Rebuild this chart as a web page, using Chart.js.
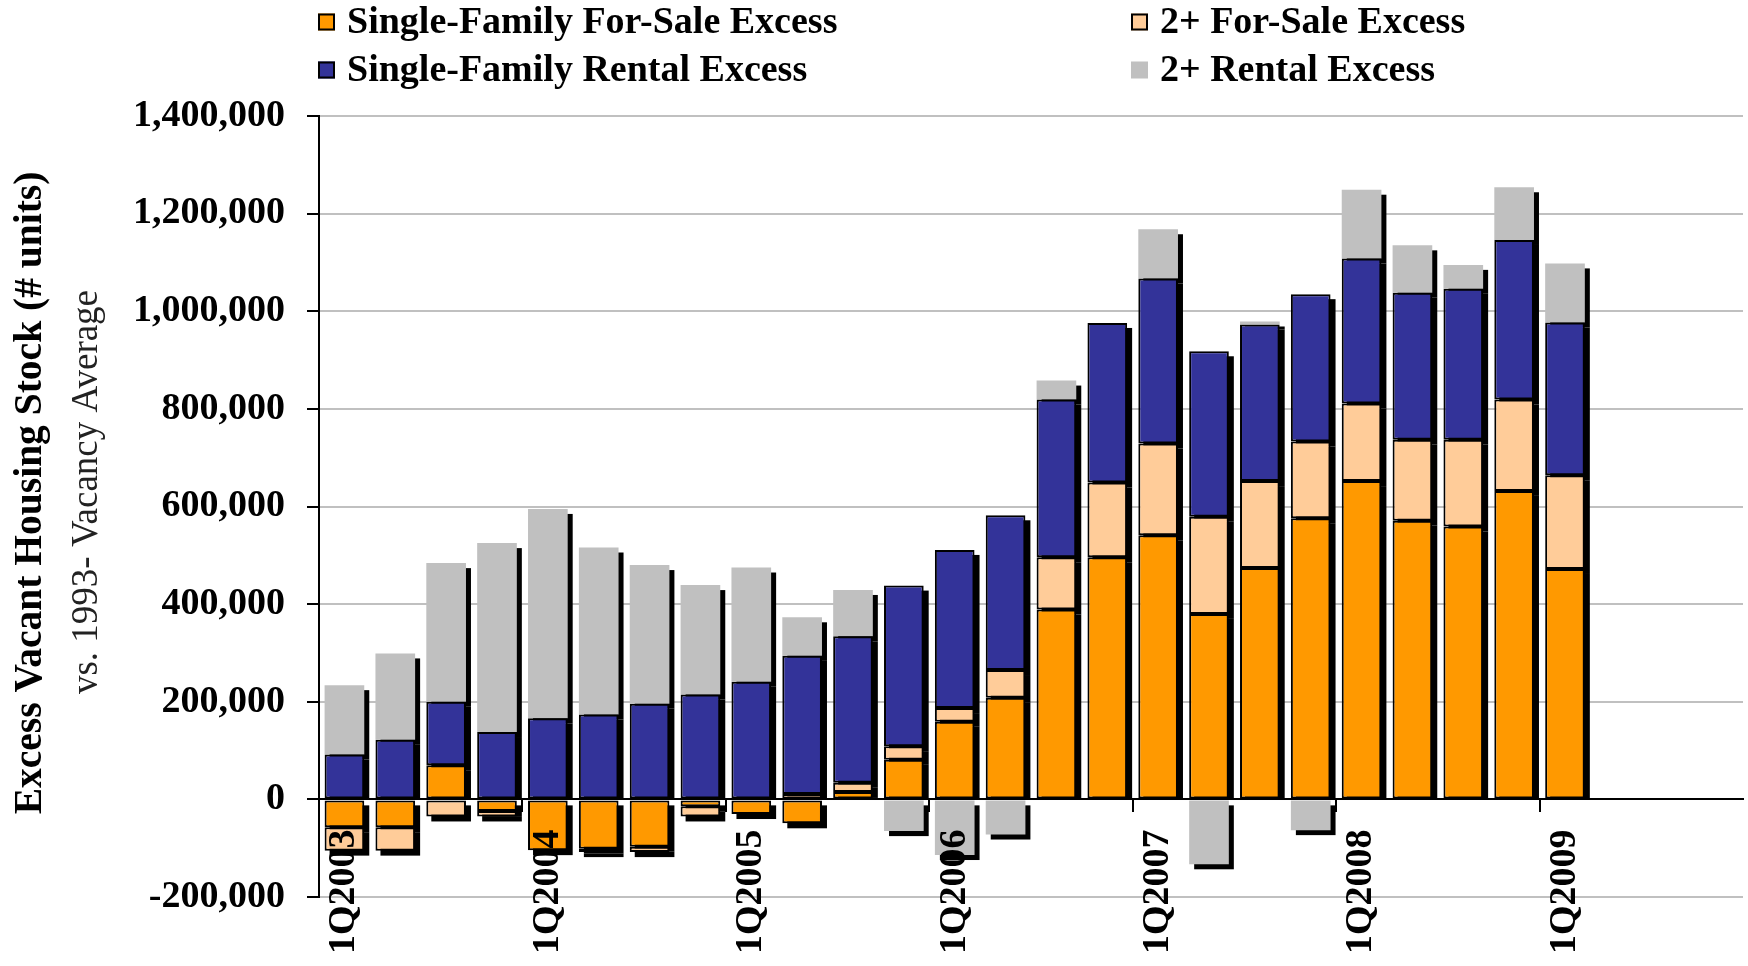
<!DOCTYPE html>
<html>
<head>
<meta charset="utf-8">
<title>Excess Vacant Housing Stock</title>
<script src="https://cdn.jsdelivr.net/npm/chart.js@4.4.1/dist/chart.umd.min.js"></script>
<style>
  html, body { margin: 0; padding: 0; background: #fff; }
</style>
</head>
<body>
<canvas id="chart" width="1748" height="966"></canvas>
<script>
// quarters on the category axis (only 1Q of each year gets a label)
const quarters = [
    "1Q2003", "2Q2003", "3Q2003", "4Q2003",
    "1Q2004", "2Q2004", "3Q2004", "4Q2004",
    "1Q2005", "2Q2005", "3Q2005", "4Q2005",
    "1Q2006", "2Q2006", "3Q2006", "4Q2006",
    "1Q2007", "2Q2007", "3Q2007", "4Q2007",
    "1Q2008", "2Q2008", "3Q2008", "4Q2008",
    "1Q2009", "2Q2009", "3Q2009", "4Q2009"
];

// excess units vs. 1993- vacancy average, by segment
const sfForSale = [-57000, -57000, 70000, -24000, -104000, -101000, -97000, -14000,
    -30000, -49000, 15000, 81000, 159000, 208000, 389000, 496000,
    541000, 380000, 474000, 576000, 652000, 571000, 559000, 632000,
    472000, null, null, null];
const twoForSale = [-48000, -48000, -35000, -11000, 0, -7000, -11000, -21000,
    0, 11000, 19000, 28000, 28000, 57000, 107000, 153000,
    188000, 199000, 178000, 157000, 159000, 166000, 178000, 187000,
    192000, null, null, null];
const sfRental = [92000, 122000, 130000, 138000, 166000, 174000, 196000, 215000,
    241000, 283000, 300000, 329000, 324000, 317000, 323000, 327000,
    338000, 339000, 321000, 302000, 297000, 301000, 309000, 327000,
    313000, null, null, null];
const twoRental = [142000, 177000, 284000, 387000, 429000, 342000, 284000, 224000,
    234000, 79000, 95000, -65000, -114000, -72000, 39000, 0,
    101000, -133000, 6000, -63000, 141000, 97000, 49000, 108000,
    121000, null, null, null];

const yTicks = { min: -200000, max: 1400000, step: 200000 };

const yTitle = "Excess Vacant Housing Stock (# units)";
const ySubtitle = "vs. 1993- Vacancy Average";

const serif = '"Liberation Serif", "Times New Roman", serif';

// =======================
// Drop shadow behind every bar segment
// =======================
const barShadow = {
    id: "barShadow",
    beforeDatasetsDraw(chart) {
        const ctx = chart.ctx;
        const zero = chart.scales.y.getPixelForValue(0);
        const off = 5;
        ctx.save();
        ctx.fillStyle = "#000";
        chart.data.datasets.forEach((ds, i) => {
            const meta = chart.getDatasetMeta(i);
            meta.data.forEach(bar => {
                const p = bar.getProps(["x", "y", "base", "width"], true);
                if (p.y == null || isNaN(p.y) || Math.abs(p.base - p.y) < 0.5) return;
                const top = Math.min(p.y, p.base) + off;
                let bottom = Math.max(p.y, p.base) + off;
                // shadow of a positive segment stops at the axis line
                if (p.y < p.base) bottom = Math.min(bottom, zero);
                if (bottom <= top) return;
                ctx.fillRect(p.x - p.width / 2 + off, top, p.width, bottom - top);
            });
        });
        ctx.restore();
    }
};

// =======================
// Legend in two fixed columns
// =======================
const gridLegend = {
    id: "gridLegend",
    afterDraw(chart) {
        const ctx = chart.ctx;
        const cols = [318, 1131];
        const rows = [22, 70];
        const box = 17;
        ctx.save();
        ctx.font = "bold 38px " + serif;
        ctx.textBaseline = "middle";
        ctx.textAlign = "left";
        chart.data.datasets.forEach((ds, i) => {
            const x = cols[i % 2];
            const y = rows[Math.floor(i / 2)];
            ctx.fillStyle = ds.backgroundColor;
            ctx.fillRect(x, y - box / 2, box, box);
            if (ds.borderWidth) {
                ctx.strokeStyle = "#000";
                ctx.lineWidth = 2;
                ctx.strokeRect(x + 1, y - box / 2 + 1, box - 2, box - 2);
            }
            ctx.fillStyle = "#000";
            ctx.fillText(ds.label, x + 29, y + 1);
        });
        ctx.restore();
    }
};

// =======================
// Rotated axis titles
// =======================
const sideTitles = {
    id: "sideTitles",
    afterDraw(chart) {
        const ctx = chart.ctx;
        ctx.save();
        ctx.fillStyle = "#000";
        ctx.textAlign = "center";
        ctx.textBaseline = "middle";

        ctx.save();
        ctx.translate(31, 493);
        ctx.rotate(-Math.PI / 2);
        ctx.font = "bold 39.5px " + serif;
        ctx.fillText(yTitle, 0, 0);
        ctx.restore();

        ctx.save();
        ctx.translate(87, 492);
        ctx.rotate(-Math.PI / 2);
        ctx.font = "37px " + serif;
        ctx.fillStyle = "#222";
        ctx.fillText(ySubtitle, 0, 0);
        ctx.restore();

        ctx.restore();
    }
};

function segment(label, data, color, border) {
    return {
        label: label,
        data: data,
        backgroundColor: color,
        borderColor: "#000",
        borderWidth: border ? 2 : 0,
        borderSkipped: false,
        barPercentage: 1,
        categoryPercentage: 0.78
    };
}

new Chart(document.getElementById("chart"), {
    type: "bar",
    data: {
        labels: quarters,
        datasets: [
            segment("Single-Family For-Sale Excess", sfForSale, "#FF9900", true),
            segment("2+ For-Sale Excess", twoForSale, "#FFCC99", true),
            segment("Single-Family Rental Excess", sfRental, "#333399", true),
            segment("2+ Rental Excess", twoRental, "#C0C0C0", false)
        ]
    },
    options: {
        responsive: false,
        animation: false,
        devicePixelRatio: 1,
        layout: { padding: { top: 116, bottom: 69, left: 0, right: 5 } },
        plugins: {
            legend: { display: false },
            tooltip: { enabled: false }
        },
        scales: {
            x: {
                stacked: true,
                position: { y: 0 },
                offset: true,
                afterFit: scale => { scale.paddingLeft = 0; scale.paddingRight = 0; },
                border: { color: "#000", width: 2, z: 1 },
                grid: {
                    offset: true,
                    drawOnChartArea: false,
                    tickLength: 12,
                    lineWidth: 2,
                    color: c => (c.index % 4 === 0) ? "#000" : "rgba(0,0,0,0)"
                },
                ticks: {
                    z: 1,
                    autoSkip: false,
                    maxRotation: 90,
                    minRotation: 90,
                    padding: 18,
                    color: "#000",
                    font: { family: serif, size: 38, weight: "bold" },
                    callback: function (v, i) { return i % 4 === 0 ? quarters[i] : ""; }
                }
            },
            y: {
                stacked: true,
                min: yTicks.min,
                max: yTicks.max,
                afterFit: scale => { scale.width = 319; },
                border: { color: "#000", width: 2 },
                grid: {
                    color: "#C0C0C0",
                    lineWidth: 2,
                    tickColor: "#000",
                    tickLength: 12
                },
                ticks: {
                    stepSize: yTicks.step,
                    padding: 22,
                    color: "#000",
                    font: { family: serif, size: 38, weight: "bold" },
                    callback: v => v.toLocaleString("en-US")
                }
            }
        }
    },
    plugins: [barShadow, gridLegend, sideTitles]
});
</script>
</body>
</html>
